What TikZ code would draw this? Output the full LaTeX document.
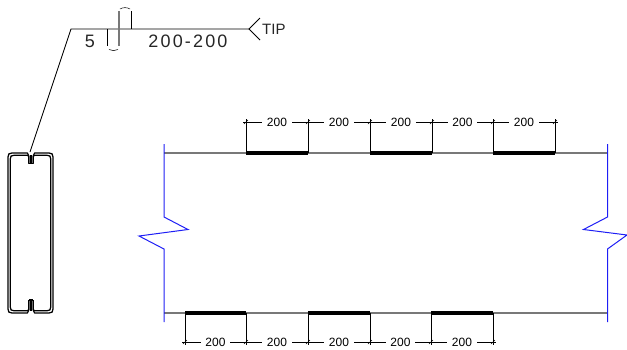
\documentclass[tikz,border=0pt]{standalone}
\usepackage{fontspec}
\setmainfont{Liberation Sans}
\newfontfamily\cadfont[LetterSpace=12]{Liberation Sans}
\definecolor{wallgray}{RGB}{120,120,120}
\definecolor{breakblue}{RGB}{30,30,245}
\tikzset{
  thin line/.style={draw=black,line width=0.9pt},
  wall/.style={draw=wallgray,line width=1.3pt},
  plate/.style={draw=black,line width=3.2pt},
  breakline/.style={draw=breakblue,line width=1pt,line join=miter},
  extension/.style={draw=black,line width=0.9pt},
  dimline/.style={draw=black,line width=0.7pt},
  dimtext/.style={fill=white,inner xsep=4.5pt,inner ysep=1pt,font=\fontsize{12}{13}\selectfont},
  weldtext/.style={inner sep=0pt,font=\cadfont\fontsize{18}{19}\selectfont,text=black!85},
  tick/.style={draw=black,line width=0.6pt},
  section/.style={draw=black,line width=1.25pt,line join=round}
}
\begin{document}
\begin{tikzpicture}[x=1pt,y=-1pt]
\useasboundingbox (0,0) rectangle (627,349);
% leader
\coordinate (lip) at (30,152);
\coordinate (elbow) at (71,29);
\coordinate (tail) at (249,29);
\coordinate (tailU) at (260,18);
\coordinate (tailD) at (260,40);
\draw[thin line] (lip) -- (elbow) -- (tail);
\draw[thin line] (tailU) -- (tail) -- (tailD);
\node[anchor=west,inner sep=0pt,font=\fontsize{15}{16}\selectfont,text=black!85] (tip) at (262,29.5) {TIP};
\node[weldtext] (five) at (90,41) {5};
\node[weldtext] (spacing) at (188,41) {200-200};
% weld symbol
\coordinate (wa) at (107.7,29);
\coordinate (wb) at (107.7,46);
\coordinate (wc) at (119,46);
\coordinate (wd) at (119,11);
\coordinate (we) at (131,11);
\coordinate (wf) at (131,29);
\draw[extension] (wa) -- (wb);
\draw[wall,line width=1.1pt] (wc) -- (wd);
\draw[extension] (we) -- (wf);
\draw[thin line,line width=0.5pt] (109,49.5) .. controls (112,51) and (115,51) .. (118,49.5);
\draw[thin line,line width=0.5pt] (120,9) .. controls (123,7.2) and (127,7.2) .. (130,9);
% C section
\foreach \d in {0,2.2}{
  \draw[section] (28.8,163.5)
    -- (28.8,{156+\d*0.3}) -- (27.4,{153+\d}) -- ({12+\d},{153+\d})
    .. controls ({9+\d},{153+\d}) and ({8+\d},{154+\d}) .. ({8+\d},{157+\d})
    -- ({8+\d},{309-\d})
    .. controls ({8+\d},{312-\d}) and ({9+\d},{313-\d}) .. ({12+\d},{313-\d})
    -- (27.4,{313-\d}) -- (28.8,{310-\d*0.3}) -- (28.8,300);
  \draw[section] (33.2,163.5)
    -- (33.2,{156+\d*0.3}) -- (34.6,{153+\d}) -- ({49-\d},{153+\d})
    .. controls ({52-\d},{153+\d}) and ({53-\d},{154+\d}) .. ({53-\d},{157+\d})
    -- ({53-\d},{309-\d})
    .. controls ({53-\d},{312-\d}) and ({52-\d},{313-\d}) .. ({49-\d},{313-\d})
    -- (34.6,{313-\d}) -- (33.2,{310-\d*0.3}) -- (33.2,300);
}
\draw[section] (28.8,163.5) -- (33.2,163.5);
\draw[section] (28.8,300) -- (33.2,300);
\draw[section] (31,155) -- (31,163.5);
\draw[section] (31,300) -- (31,311);
% walls
\coordinate (tl) at (164,153);
\coordinate (tr) at (607,153);
\coordinate (bl) at (164,313);
\coordinate (br) at (607,313);
\draw[wall] (tl) -- (tr);
\draw[wall] (bl) -- (br);
% break lines
\coordinate (lt) at (164,144);
\coordinate (lb) at (164,322);
\coordinate (rt) at (607.5,144);
\coordinate (rb) at (607.5,322);
\draw[breakline] (lt) -- (164,217) -- (188,229.5) -- (139,236) -- (164,249) -- (lb);
\draw[breakline] (rt) -- (607.5,217) -- (583.5,229.5) -- (627,235) -- (607.5,249) -- (rb);
% top plates and dimensions
\foreach \n/\x in {a/246,b/308,c/370,d/432,e/493,f/555}{
  \coordinate (t\n) at (\x,153);
  \coordinate (u\n) at (\x,122);
  \draw[extension] (t\n) -- ([yshift=3pt]u\n);
  \draw[tick] ([shift={(-2,2)}]u\n) -- ([shift={(2,-2)}]u\n);
  \draw[tick] ([shift={(-3,0)}]u\n) -- ([shift={(3,0)}]u\n);
}
\foreach \p/\q in {a/b,c/d,e/f}{ \draw[plate] (t\p) -- (t\q); }
\foreach \p/\q in {a/b,b/c,c/d,d/e,e/f}{
  \draw[dimline] (u\p) -- node[dimtext] {200} (u\q);
}
% bottom plates and dimensions
\foreach \n/\x in {a/185,b/246,c/308,d/370,e/431,f/493}{
  \coordinate (s\n) at (\x,313);
  \coordinate (v\n) at (\x,342);
  \draw[extension] (s\n) -- ([yshift=-3pt]v\n);
  \draw[tick] ([shift={(-2,2)}]v\n) -- ([shift={(2,-2)}]v\n);
  \draw[tick] ([shift={(-3,0)}]v\n) -- ([shift={(3,0)}]v\n);
}
\foreach \p/\q in {a/b,c/d,e/f}{ \draw[plate] (s\p) -- (s\q); }
\foreach \p/\q in {a/b,b/c,c/d,d/e,e/f}{
  \draw[dimline] (v\p) -- node[dimtext] {200} (v\q);
}
\end{tikzpicture}
\end{document}
